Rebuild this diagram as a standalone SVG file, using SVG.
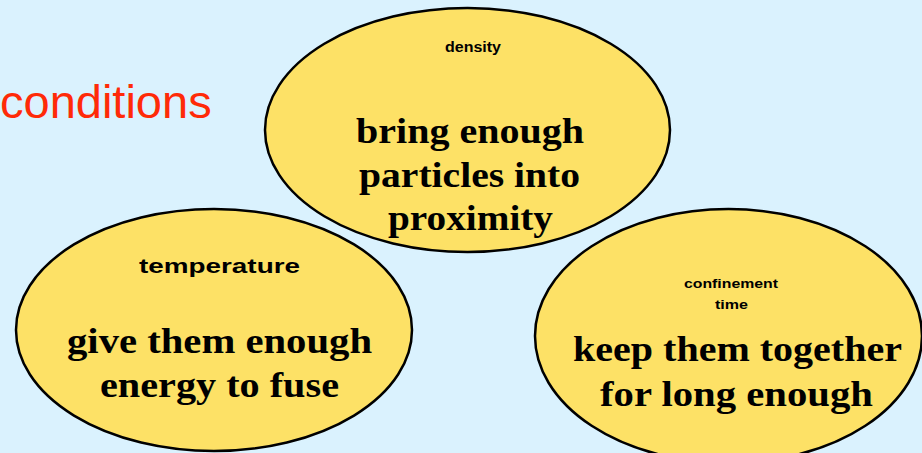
<svg xmlns="http://www.w3.org/2000/svg" width="922" height="453" viewBox="0 0 922 453">
<style>
.bg{fill:#daf2fe}
.node ellipse{fill:#fde166;stroke:#000;stroke-width:2.5}
.lbl{font-family:"Liberation Sans",Arial,sans-serif;font-weight:bold;fill:#000;text-anchor:middle}
.big{font-family:"Liberation Serif","Times New Roman",serif;font-weight:bold;font-size:36px;fill:#000;text-anchor:middle}
.title{font-family:"Liberation Sans",Arial,sans-serif;font-size:47px;fill:#ff2a08}
</style>
<rect class="bg" x="0" y="0" width="922" height="453"/>
<text class="title" x="0" y="118">conditions</text>
<g id="connectors"></g>
<g id="temperature" class="node">
<ellipse cx="214" cy="330" rx="198" ry="121"/>
<text class="lbl" x="219.5" y="273" font-size="20" textLength="161" lengthAdjust="spacingAndGlyphs">temperature</text>
<text class="big" x="219.5" y="353" textLength="305" lengthAdjust="spacingAndGlyphs">give them enough</text>
<text class="big" x="219.5" y="397" textLength="239" lengthAdjust="spacingAndGlyphs">energy to fuse</text>
</g>
<g id="confinement" class="node">
<ellipse cx="728.5" cy="336" rx="193.5" ry="127"/>
<text class="lbl" x="731" y="288" font-size="13" textLength="94" lengthAdjust="spacingAndGlyphs">confinement</text>
<text class="lbl" x="731.5" y="309" font-size="13" textLength="33" lengthAdjust="spacingAndGlyphs">time</text>
<text class="big" x="737.5" y="361" textLength="329" lengthAdjust="spacingAndGlyphs">keep them together</text>
<text class="big" x="736.5" y="406" textLength="273" lengthAdjust="spacingAndGlyphs">for long enough</text>
</g>
<g id="density" class="node">
<ellipse cx="467.5" cy="130" rx="202.5" ry="122"/>
<text class="lbl" x="473" y="52" font-size="14.5" textLength="56" lengthAdjust="spacingAndGlyphs">density</text>
<text class="big" x="470" y="143" textLength="228" lengthAdjust="spacingAndGlyphs">bring enough</text>
<text class="big" x="469.5" y="187" textLength="221" lengthAdjust="spacingAndGlyphs">particles into</text>
<text class="big" x="470.5" y="230" textLength="165" lengthAdjust="spacingAndGlyphs">proximity</text>
</g>
</svg>
